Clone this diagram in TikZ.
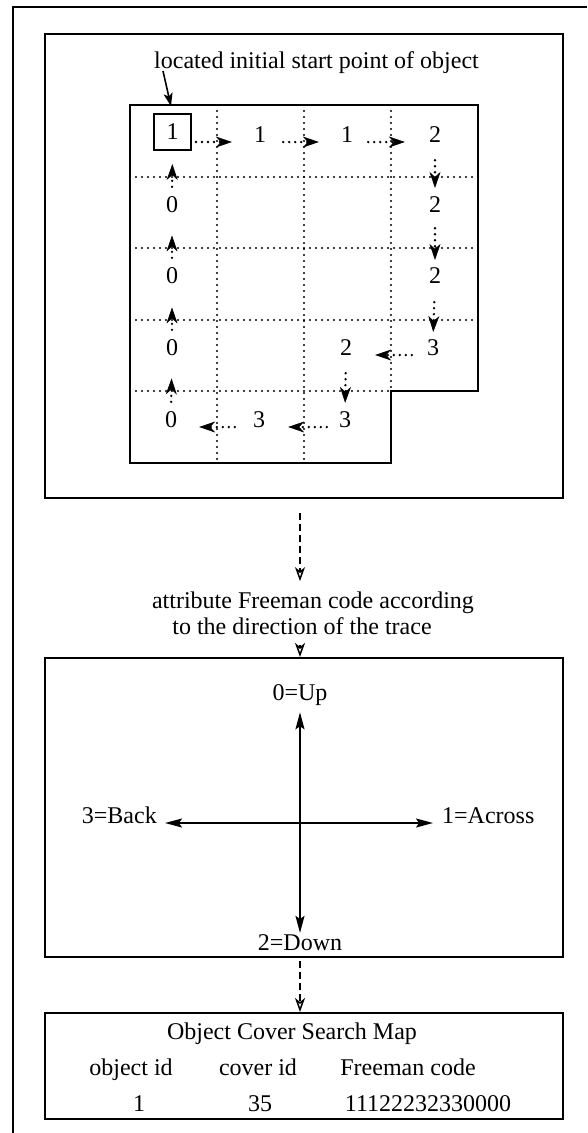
\documentclass[tikz,border=0pt]{standalone}
\usepackage{fontspec}
\setmainfont{Liberation Serif}
\usetikzlibrary{arrows.meta,calc}
\begin{document}
\begin{tikzpicture}[x=1pt,y=-1pt,
  every node/.style={font=\fontsize{24pt}{28pt}\selectfont, inner sep=0pt},
  boxframe/.style={draw, line width=2pt},
  lbl/.style={anchor=base},
  dotline/.style={line width=2.4pt, dash pattern=on 0pt off 6pt, line cap=round},
  garrow/.style={line width=2.6pt, dash pattern=on 0pt off 6pt, line cap=round,
     -{Stealth[length=16pt,width=11pt,inset=5pt,line width=0.6pt]}},
  sarrow/.style={line width=1.6pt, -{Stealth[length=13pt,width=9pt,inset=3pt]}},
  darrow/.style={line width=2.2pt, dash pattern=on 7pt off 4pt,
     -{Stealth[length=14pt,width=10pt,inset=4pt,open,line width=1.5pt]}},
  barrow/.style={line width=1.7pt, {Stealth[length=17pt,width=9pt,inset=3pt]}-{Stealth[length=17pt,width=9pt,inset=3pt]}}
]
\fill[white] (0,0) rectangle (587,1133);
\useasboundingbox (0,0) rectangle (587,1133);

% outer frame
\draw[line width=2pt] (587,7) -- (13,7) -- (13,1133);

% box 1
\node[boxframe, minimum width=518pt, minimum height=464pt] (box1) at (304,266) {};
\node[anchor=base west] (title) at (154,68) {located initial start point of object};

% grid outline
\draw[line width=2.2pt] (130,105) -- (478,105) -- (478,391) -- (391,391) -- (391,463) -- (130,463) -- cycle;
% dotted grid lines
\draw[dotline] (130,177) -- (478,177);
\draw[dotline] (130,248) -- (478,248);
\draw[dotline] (130,320) -- (478,320);
\draw[dotline] (130,391) -- (391,391);
\draw[dotline] (217,105) -- (217,463);
\draw[dotline] (304,105) -- (304,463);
\draw[dotline] (391,105) -- (391,391);

% cell labels
\node[draw, line width=2pt, minimum width=37pt, minimum height=36pt] (c11) at (172.5,132) {1};
\node[lbl] (c12) at (260,142) {1};
\node[lbl] (c13) at (347,142) {1};
\node[lbl] (c14) at (435,142) {2};
\node[lbl] (c21) at (172,212) {0};
\node[lbl] (c24) at (435,212) {2};
\node[lbl] (c31) at (172,283) {0};
\node[lbl] (c34) at (435,283) {2};
\node[lbl] (c41) at (172,355) {0};
\node[lbl] (c43) at (346,355) {2};
\node[lbl] (c44) at (433,355) {3};
\node[lbl] (c51) at (171,427) {0};
\node[lbl] (c52) at (259,427) {3};
\node[lbl] (c53) at (345,427) {3};

% pointer to start point
\draw[sarrow, shorten >=7pt] ([xshift=9pt,yshift=-3pt]title.base west) -- (c11.north);

% trace arrows
\draw[garrow, shorten <=4pt, shorten >=22pt] (c11.east |- c12.base) -- (c12.base west);
\draw[garrow, shorten <=17pt, shorten >=22pt] (c12.base east) -- (c13.base west);
\draw[garrow, shorten <=15pt, shorten >=24pt] (c13.base east) -- (c14.base west);
\draw[garrow, shorten <=18pt, shorten >=8pt] (c14.south) -- (c24.north);
\draw[garrow, shorten <=16pt, shorten >=7pt] (c24.south) -- (c34.north);
\draw[garrow, shorten <=19pt, shorten >=7pt] (c34.south) -- (c44.north);
\draw[garrow, shorten <=15pt, shorten >=23pt] (c44.base west) -- (c43.base east);
\draw[garrow, shorten <=18pt, shorten >=8pt] (c43.south) -- (c53.north);
\draw[garrow, shorten <=12pt, shorten >=23pt] (c53.base west) -- (c52.base east);
\draw[garrow, shorten <=18pt, shorten >=22pt] (c52.base west) -- (c51.base east);
\draw[garrow, shorten <=9pt, shorten >=23pt] (c51.north) -- (c41.south);
\draw[garrow, shorten <=9pt, shorten >=24pt] (c41.north) -- (c31.south);
\draw[garrow, shorten <=9pt, shorten >=23pt] (c31.north) -- (c21.south);
\draw[garrow, shorten <=9pt, shorten >=13pt] (c21.north) -- (c11.south);

% caption
\coordinate (ax) at (300,0);
\node[lbl] (cap1) at (313,608) {attribute Freeman code according};
\node[lbl] (cap2) at (302,634) {to the direction of the trace};
\draw[darrow, shorten <=14pt, shorten >=10pt] (box1.south -| ax) -- (cap1.north -| ax);

% box 2
\node[boxframe, minimum width=518pt, minimum height=299pt] (box2) at (304,807.5) {};
\draw[darrow, shorten <=11pt] (cap2.south -| ax) -- (box2.north -| ax);
\node[lbl] (up) at (300,700) {0=Up};
\node[lbl] (down) at (300,950) {2=Down};
\node[anchor=base east] (back) at (157,823) {3=Back};
\node[anchor=base west] (across) at (442,823) {1=Across};
\draw[barrow, shorten <=7pt, shorten >=1pt] (up.south) -- (down.north);
\draw[barrow, shorten <=8pt, shorten >=9pt] (back.base east) -- (across.base west);

% box 3
\node[boxframe, minimum width=518pt, minimum height=106pt] (box3) at (304,1066) {};
\draw[darrow, shorten <=3pt] (box2.south -| ax) -- (box3.north -| ax);
\node[lbl] (t0) at (292,1039) {Object Cover Search Map};
\node[lbl] (h1) at (131,1075) {object id};
\node[lbl] (h2) at (258,1075) {cover id};
\node[lbl] (h3) at (408,1075) {Freeman code};
\node[lbl] (v1) at (139,1111) {1};
\node[lbl] (v2) at (260,1111) {35};
\node[lbl] (v3) at (428,1111) {11122232330000};
\end{tikzpicture}
\end{document}
